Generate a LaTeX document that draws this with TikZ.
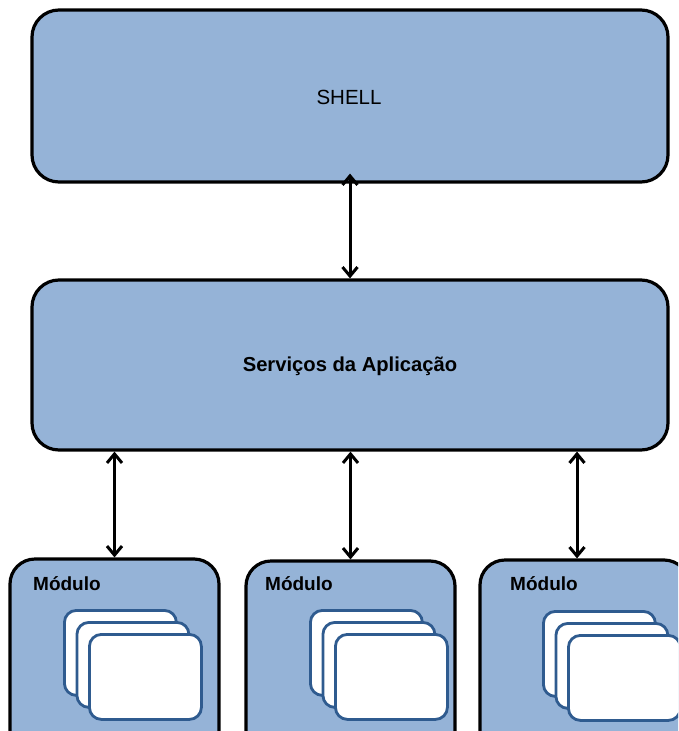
\documentclass[tikz,border=0pt]{standalone}
\usepackage{fontspec}
\setmainfont{Liberation Sans}
\usetikzlibrary{arrows.meta}
\definecolor{boxfill}{HTML}{95B3D7}
\definecolor{cardline}{HTML}{2F5B8F}
\tikzset{
  bigbox/.style={draw=black, line width=3.2pt, fill=boxfill, rounded corners=27pt, inner sep=0pt},
  modbox/.style={draw=black, line width=3.2pt, fill=boxfill, rounded corners=25pt, inner sep=0pt, minimum width=209pt, minimum height=200pt},
  card/.style={draw=cardline, line width=2.8pt, fill=white, rounded corners=12pt, inner sep=0pt, minimum width=112pt, minimum height=85pt, anchor=north west},
  conn/.style={line width=3pt, {Straight Barb[length=9pt,width=15pt]}-{Straight Barb[length=9pt,width=15pt]}},
  modlabel/.style={anchor=base west, inner sep=0pt, font=\fontsize{19}{21}\selectfont\bfseries}
}
\begin{document}
\begin{tikzpicture}[x=1pt,y=-1pt]
\useasboundingbox (0,0) rectangle (678,731);
\clip (0,0) rectangle (678,731);
\node[bigbox, minimum width=636pt, minimum height=172pt] (shell) at (350,96) {};
\node[inner sep=0pt, font=\fontsize{20.5}{22}\selectfont] (shelltxt) at (349,97) {SHELL};
\node[bigbox, minimum width=636pt, minimum height=170pt] (serv) at (350,365) {};
\node[inner sep=0pt, font=\fontsize{20.2}{22}\selectfont\bfseries] (servtxt) at (350,366) {Serviços da Aplicação};
% modules
\node[modbox] (m1) at (114.5,659) {};
\node[modbox] (m2) at (350.5,661) {};
\node[modbox] (m3) at (584.5,660) {};
\node[modlabel] (l1) at (33,590) {Módulo};
\node[modlabel] (l2) at (265,590) {Módulo};
\node[modlabel] (l3) at (510,590) {Módulo};
% cards
\foreach \m/\x/\y in {1/63/609, 2/309/609, 3/542/610}{
  \node[card] (c\m a) at (\x,\y) {};
  \node[card] (c\m b) at (\x+12.5,\y+12) {};
  \node[card] (c\m c) at (\x+25,\y+24) {};
}
% connectors
\draw[conn] ([yshift=10pt]shell.south) -- (serv.north);
\draw[conn] (serv.south -| m1.north) -- (m1.north);
\draw[conn] (serv.south -| m2.north) -- (m2.north);
\draw[conn] ([xshift=-7.5pt]m3.north |- serv.south) -- ([xshift=-7.5pt]m3.north);
\end{tikzpicture}
\end{document}
